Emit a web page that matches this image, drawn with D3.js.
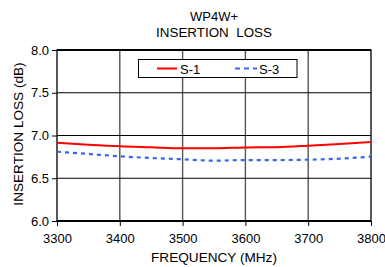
<!DOCTYPE html>
<html><head><meta charset="utf-8">
<script src="https://cdn.jsdelivr.net/npm/d3@7"></script>
<style>body{margin:0;background:#fff}text{font-family:"Liberation Sans",Arial,sans-serif;fill:#000}</style>
</head><body><svg id="c" width="385" height="267"></svg>
<script>
const freq = [3300,3350,3400,3450,3500,3550,3600,3650,3700,3750,3800];
const s1 = [6.915,6.892,6.873,6.862,6.851,6.850,6.860,6.864,6.880,6.900,6.923];
const s3 = [6.810,6.784,6.757,6.737,6.722,6.706,6.713,6.713,6.717,6.729,6.752];
const xTicks = [3300,3400,3500,3600,3700,3800];
const yTicks = [6.0,6.5,7.0,7.5,8.0];
const seriesNames = ["S-1","S-3"];

const svg = d3.select("#c");
const L=57,R=371,T=50,B=221;
const x = d3.scaleLinear().domain([3300,3800]).range([L,R]);
const y = d3.scaleLinear().domain([6,8]).range([B,T]);

// grid
svg.append("g").selectAll("line").data(xTicks.slice(1,-1)).join("line")
  .attr("x1",d=>x(d)).attr("x2",d=>x(d)).attr("y1",T).attr("y2",B)
  .attr("stroke","#555").attr("stroke-width",1.4);
svg.append("g").selectAll("line").data(yTicks.slice(1,-1)).join("line")
  .attr("x1",L).attr("x2",R).attr("y1",d=>y(d)).attr("y2",d=>y(d))
  .attr("stroke","#000").attr("stroke-width",1);

// axes
const xa = svg.append("g").attr("transform",`translate(0,${B})`)
  .call(d3.axisBottom(x).tickValues(xTicks).tickFormat(d3.format("d")).tickSize(5).tickPadding(8));
const ya = svg.append("g").attr("transform",`translate(${L},0)`)
  .call(d3.axisLeft(y).tickValues(yTicks).tickFormat(d3.format(".1f")).tickSize(5).tickPadding(3));
[xa,ya].forEach(a=>{a.select(".domain").remove();a.selectAll("line").attr("stroke","#000");
  a.selectAll("text").attr("font-size",13).attr("font-family","Liberation Sans, Arial, sans-serif").attr("fill","#000");});

// border
svg.append("rect").attr("x",L).attr("y",T).attr("width",R-L).attr("height",B-T)
  .attr("fill","none").attr("stroke","#000").attr("stroke-width",1.3);
svg.append("line").attr("x1",L).attr("x2",R).attr("y1",T).attr("y2",T).attr("stroke","#000").attr("stroke-width",2);
svg.append("line").attr("x1",L).attr("x2",R).attr("y1",B).attr("y2",B).attr("stroke","#000").attr("stroke-width",2);

// lines
const line = d3.line().curve(d3.curveMonotoneX).x((d,i)=>x(freq[i])).y(d=>y(d));
svg.append("path").attr("d",line(s1)).attr("fill","none").attr("stroke","#ff0000").attr("stroke-width",2);
svg.append("path").attr("d",line(s3)).attr("fill","none").attr("stroke","#3366ff").attr("stroke-width",2.2).attr("stroke-dasharray","4,4");

// legend
svg.append("rect").attr("x",138.5).attr("y",59.5).attr("width",158.5).attr("height",18)
  .attr("fill","#fff").attr("stroke","#000").attr("stroke-width",1);
svg.append("line").attr("x1",157).attr("x2",177).attr("y1",68.5).attr("y2",68.5).attr("stroke","#ff0000").attr("stroke-width",2);
svg.append("text").attr("x",180).attr("y",73.5).attr("font-size",13).text(seriesNames[0]);
svg.append("line").attr("x1",235).attr("x2",257).attr("y1",68.5).attr("y2",68.5).attr("stroke","#3366ff").attr("stroke-width",2.2).attr("stroke-dasharray","5,4");
svg.append("text").attr("x",259).attr("y",73.5).attr("font-size",13).text(seriesNames[1]);

// titles
svg.append("text").attr("x",214).attr("y",21).attr("text-anchor","middle").attr("font-size",13).text("WP4W+");
svg.append("text").attr("x",214).attr("y",37).attr("text-anchor","middle").attr("font-size",13.4).attr("xml:space","preserve").style("white-space","pre").text("INSERTION  LOSS");
svg.append("text").attr("x",214).attr("y",262).attr("text-anchor","middle").attr("font-size",13.6).text("FREQUENCY (MHz)");
svg.append("text").attr("transform","translate(23,134) rotate(-90)").attr("text-anchor","middle").attr("font-size",13.6).text("INSERTION LOSS (dB)");
</script></body></html>
